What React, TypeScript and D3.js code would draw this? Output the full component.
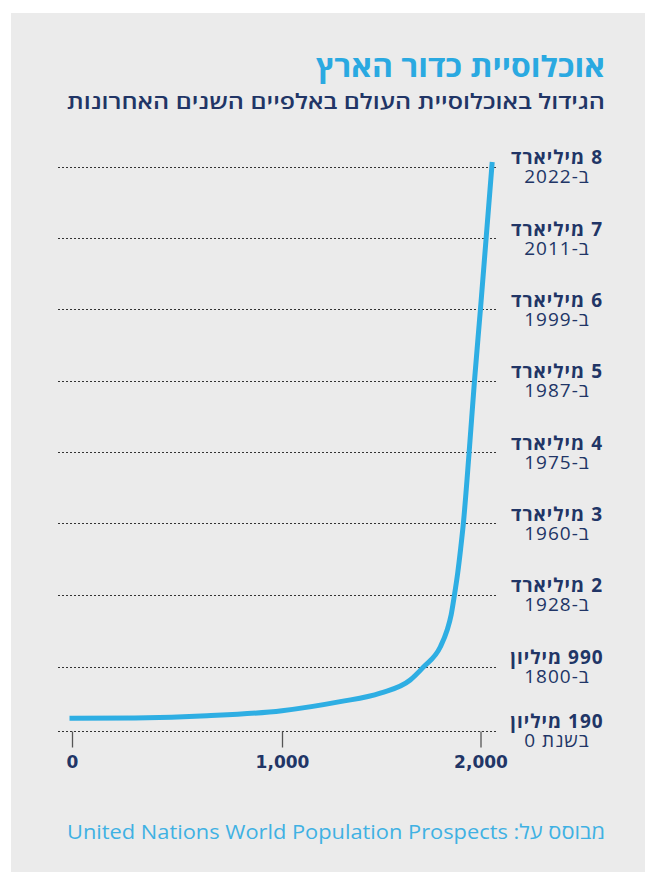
import React, { useEffect, useRef } from 'react';
import * as d3 from 'd3';

// population in billions
const curveYears = [0, 300, 643, 1000, 1293, 1495, 1646, 1712, 1798, 1832, 1852, 1869, 1885, 1900, 1913, 1942, 1970, 2000, 2029, 2058];
const curvePopulation = [0.345, 0.35, 0.377, 0.44, 0.553, 0.66, 0.824, 0.985, 1.27, 1.505, 1.715, 2.0, 2.3, 2.645, 2.98, 3.97, 5.01, 6.01, 7.02, 8.03];

const gridValues = [0.19, 0.99, 2, 3, 4, 5, 6, 7, 8];
const valueLabels = ['190 מיליון', '990 מיליון', '2 מיליארד', '3 מיליארד', '4 מיליארד', '5 מיליארד', '6 מיליארד', '7 מיליארד', '8 מיליארד'];
const yearLabels = ['בשנת 0', 'ב-1800', 'ב-1928', 'ב-1960', 'ב-1975', 'ב-1987', 'ב-1999', 'ב-2011', 'ב-2022'];
const xTicks = [0, 1000, 2000];

const title = 'אוכלוסיית כדור הארץ';
const subtitle = 'הגידול באוכלוסיית העולם באלפיים השנים האחרונות';
const source = 'מבוסס על: United Nations World Population Prospects';

const W = 645;
const H = 872;
const navy = '#213566';
const blue = '#2eaee3';
const hebFont = '"Open Sans", "DejaVu Sans", sans-serif';

export default function App() {
  const ref = useRef<SVGSVGElement>(null);

  useEffect(() => {
    if (!ref.current) return;
    const svg = d3.select(ref.current);
    svg.selectAll('*').remove();

    svg.append('rect')
      .attr('x', 11).attr('y', 13)
      .attr('width', W - 11).attr('height', H - 13)
      .attr('fill', '#ebebeb');

    // titles
    svg.append('text')
      .attr('x', 605).attr('y', 77)
      .attr('direction', 'rtl')
      .attr('text-anchor', 'start')
      .attr('textLength', 289)
      .attr('lengthAdjust', 'spacingAndGlyphs')
      .style('font-family', hebFont)
      .style('font-weight', 700)
      .style('font-size', '29px')
      .style('fill', '#2aa9e1')
      .text(title);

    svg.append('text')
      .attr('x', 605).attr('y', 109)
      .attr('direction', 'rtl')
      .attr('text-anchor', 'start')
      .attr('textLength', 538)
      .attr('lengthAdjust', 'spacingAndGlyphs')
      .style('font-family', hebFont)
      .style('font-weight', 600)
      .style('font-size', '21px')
      .style('fill', navy)
      .text(subtitle);

    const x = d3.scaleLinear().domain([0, 1000, 2000]).range([72, 282, 480.5]);
    const y = d3.scaleLinear().domain([0.19, 0.99, 8]).range([730.7, 666.7, 166.7]);

    // dotted gridlines
    svg.append('g')
      .selectAll('line')
      .data(gridValues)
      .enter()
      .append('line')
      .attr('x1', 58).attr('x2', 496)
      .attr('y1', (d) => Math.round(y(d)) + 0.5)
      .attr('y2', (d) => Math.round(y(d)) + 0.5)
      .attr('stroke', '#333')
      .attr('stroke-width', 1)
      .attr('stroke-dasharray', '2,2');

    // x axis
    const axis = svg.append('g')
      .attr('transform', `translate(0, ${Math.round(y(0.19)) + 0.5})`)
      .call(d3.axisBottom(x).tickValues(xTicks).tickFormat(d3.format(',')).tickSize(16).tickPadding(8));
    axis.select('.domain').remove();
    axis.selectAll('.tick line').attr('stroke', '#555').attr('stroke-width', 1.3);
    axis.selectAll('.tick text')
      .style('font-family', '"DejaVu Sans", sans-serif')
      .style('font-weight', 700)
      .style('font-size', '17px')
      .style('fill', navy);

    // population curve
    const pts: [number, number][] = curveYears.map((yr, i) => [yr, curvePopulation[i]]);
    const line = d3.line<[number, number]>()
      .x((d) => x(d[0]))
      .y((d) => y(d[1]))
      .curve(d3.curveMonotoneX);
    svg.append('path')
      .attr('d', line(pts))
      .attr('fill', 'none')
      .attr('stroke', blue)
      .attr('stroke-width', 5)
      .attr('stroke-linecap', 'square');

    // right labels
    const labels = svg.append('g');
    labels.selectAll('.val')
      .data(gridValues)
      .enter()
      .append('text')
      .attr('class', 'val')
      .attr('x', 557)
      .attr('y', (d) => y(d) - 2.5)
      .attr('direction', 'rtl')
      .attr('text-anchor', 'middle')
      .style('font-family', hebFont)
      .style('font-weight', 700)
      .style('font-size', '19px')
      .style('letter-spacing', '1px')
      .style('fill', navy)
      .text((d, i) => valueLabels[i]);
    labels.selectAll('.yr')
      .data(gridValues)
      .enter()
      .append('text')
      .attr('class', 'yr')
      .attr('x', 557)
      .attr('y', (d) => y(d) + 16.5)
      .attr('direction', 'rtl')
      .attr('text-anchor', 'middle')
      .style('font-family', hebFont)
      .style('font-weight', 400)
      .style('font-size', '19px')
      .style('letter-spacing', '1px')
      .style('fill', navy)
      .text((d, i) => yearLabels[i]);

    // source
    svg.append('text')
      .attr('x', 605).attr('y', 839)
      .attr('direction', 'rtl')
      .attr('text-anchor', 'start')
      .attr('textLength', 538)
      .attr('lengthAdjust', 'spacingAndGlyphs')
      .style('font-family', hebFont)
      .style('font-weight', 400)
      .style('font-size', '20px')
      .style('fill', '#3fb1e3')
      .text(source);
  }, []);

  return (
    <svg ref={ref} width={W} height={H} style={{ position: 'absolute', left: 0, top: 0 }} />
  );
}
